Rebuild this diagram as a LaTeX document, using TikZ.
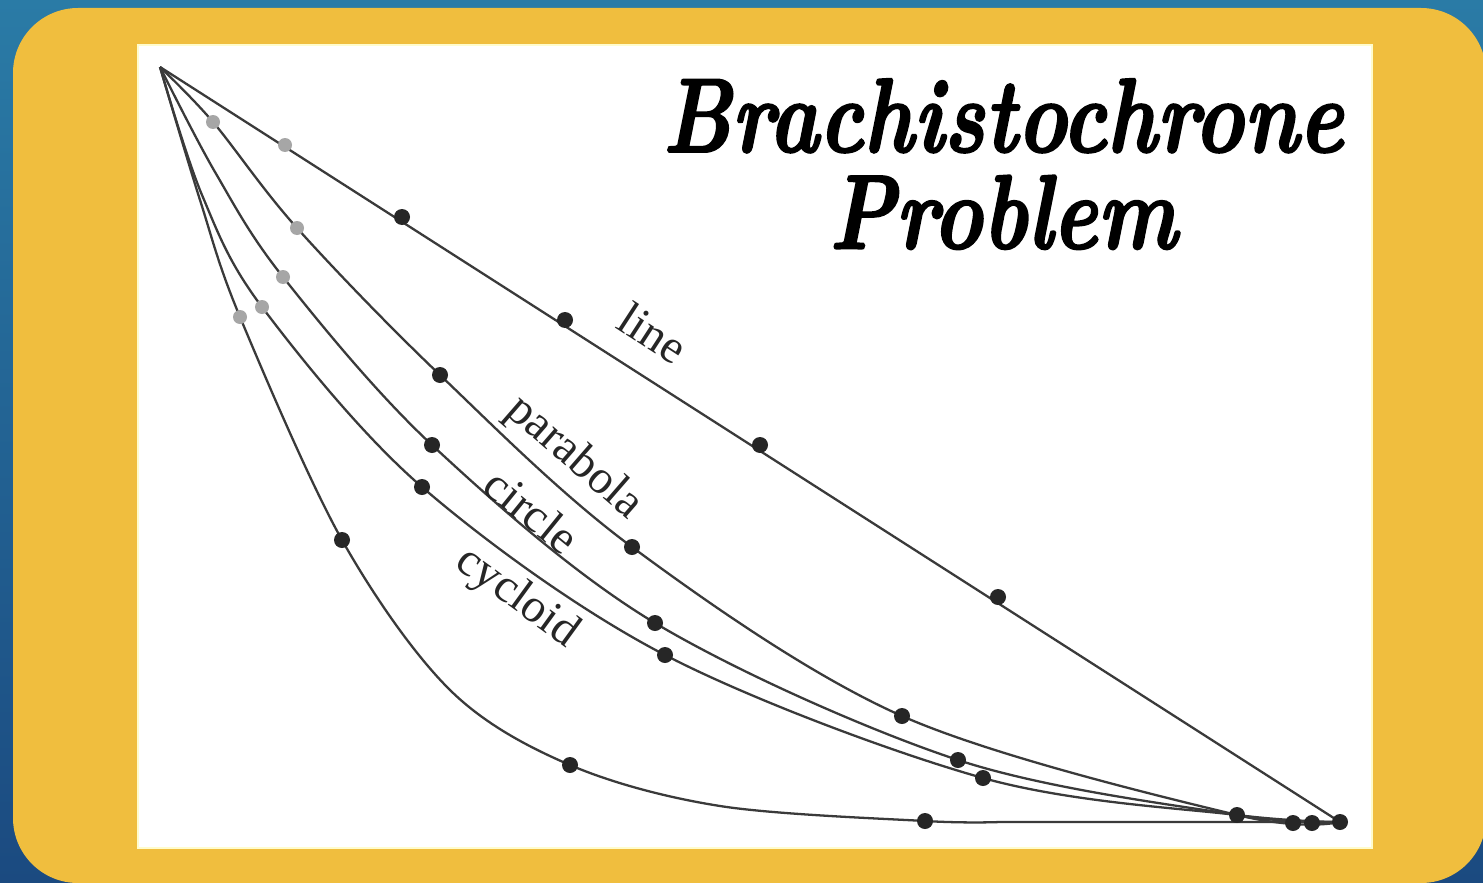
\documentclass[tikz,border=0pt]{standalone}
\usepackage{fontspec}
\usetikzlibrary{calc}
\newfontfamily\tagfont{Liberation Serif}
\newfontfamily\titlefont{Latin Modern Roman}[BoldItalicFeatures={FakeBold=2}]
\definecolor{frameYellow}{HTML}{F0BE3E}
\definecolor{skyTop}{HTML}{2A7BA6}
\definecolor{skyBottom}{HTML}{1B4A80}
\definecolor{curveGray}{HTML}{3A3A3A}

\begin{document}
\begin{tikzpicture}[x=0.02cm, y=-0.02cm,
    curve/.style={draw=curveGray, line width=1.3pt},
    ball/.style={fill=black!85},
    ghost/.style={fill=black!35},
    tag/.style={font=\tagfont\fontsize{27}{29}\selectfont, text=black!85, inner sep=0pt}]
    % background and frame
    \shade[top color=skyTop, bottom color=skyBottom] (0,0) rectangle (1483,882);
    \useasboundingbox (0,0) rectangle (1483,882);
    \fill[frameYellow, rounded corners=37pt] (13,8) rectangle (1486,883);
    \fill[white, draw=yellow!20, line width=1.5pt] (138,45) rectangle (1372,848);

    \coordinate (start) at (160,67);
    \coordinate (goal) at (1340,822);

    % the five paths
    \draw[curve] (start) -- (goal);
    \draw[curve] plot[smooth, tension=0.55] coordinates {(start) (213,122) (297,228) (440,375)
      (632,547) (902,716) (1237,815) (goal)};
    \draw[curve] plot[smooth, tension=0.55] coordinates {(start) (215,172) (283,277) (432,445)
      (655,623) (958,760) (1237,815) (goal)};
    \draw[curve] plot[smooth, tension=0.55] coordinates {(start) (202,195) (262,307) (422,487)
      (665,655) (983,778) (1237,815) (goal)};
    \draw[curve] plot[smooth, tension=0.55] coordinates {(start) (200,200) (240,317) (342,540)
      (450,690) (570,765) (720,806) (925,821) (1000,822)} -- (goal);

    % balls at equal times
    \foreach \p in {(285,145), (297,228), (283,277), (262,307), (240,317), (213,122)}
      \fill[ghost] \p circle (7);
    \foreach \p in {(402,217), (565,320), (760,445), (998,597), (440,375), (632,547),
      (902,716), (432,445), (655,623), (958,760), (422,487), (665,655), (983,778),
      (342,540), (570,765), (925,821), (1237,815), (1293,823), (1312,823), (1340,822)}
      \fill[ball] \p circle (8);

    % labels
    \node[tag, rotate=-33] (lLine) at (653,333) {line};
    \node[tag, rotate=-41] (lParabola) at (574,458) {parabola};
    \node[tag, rotate=-39] (lCircle) at (532,511) {circle};
    \node[tag, rotate=-36] (lCycloid) at (517,598) {cycloid};

    \node[font=\titlefont\fontsize{60}{55}\selectfont\bfseries\itshape, align=center,
      inner sep=0pt, xscale=0.8] (title) at (1003,164) {Brachistochrone\\Problem};
\end{tikzpicture}
\end{document}
